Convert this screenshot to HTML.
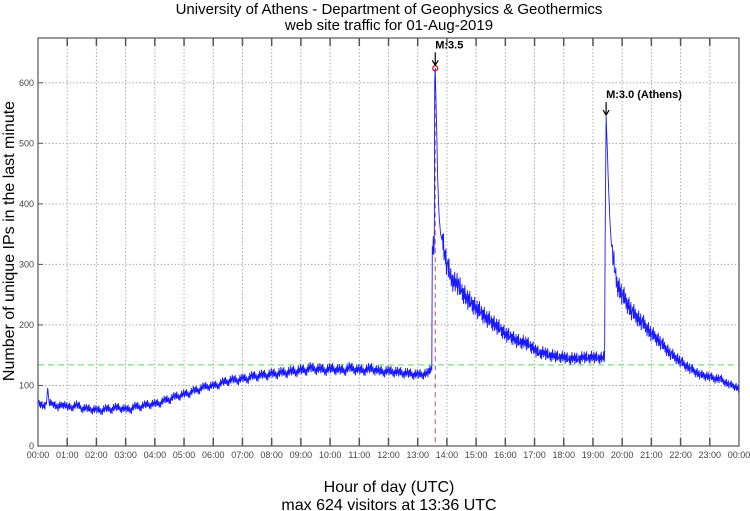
<!DOCTYPE html>
<html><head><meta charset="utf-8"><style>
body{margin:0;background:#fff;}
svg{display:block;font-family:"Liberation Sans",sans-serif;}
</style></head><body>
<svg id="chart" width="750" height="511" viewBox="0 0 750 511">
<text x="389" y="14" font-size="15" text-anchor="middle">University of Athens - Department of Geophysics &amp; Geothermics</text>
<text x="389" y="30" font-size="15" text-anchor="middle">web site traffic for 01-Aug-2019</text>
<text x="389" y="492" font-size="16" text-anchor="middle">Hour of day (UTC)</text>
<text x="389" y="510" font-size="16" text-anchor="middle">max 624 visitors at 13:36 UTC</text>
<text transform="translate(14,241) rotate(-90)" font-size="16" text-anchor="middle">Number of unique IPs in the last minute</text>
<g id="grid"></g><g id="series"></g><g id="ann"></g>
<rect x="38" y="38" width="701" height="408" fill="none" stroke="#555" stroke-width="1.2"/>
</svg>
<script>
const yTicks=[0,100,200,300,400,500,600];
const xTickHours=[0,1,2,3,4,5,6,7,8,9,10,11,12,13,14,15,16,17,18,19,20,21,22,23,24];
const minutes=[0,10,17,20,23,30,40,50,60,70,80,90,100,110,120,130,140,150,160,170,180,190,200,210,220,230,240,250,260,270,280,290,300,310,320,330,340,350,360,370,380,390,400,410,420,430,440,450,460,470,480,490,500,510,520,530,540,550,560,570,580,590,600,610,620,630,640,650,660,670,680,690,700,710,720,730,740,750,760,770,780,790,800,809,810,814,815,816,817,819,821,824,827,830,835,840,845,850,855,860,865,870,880,890,900,910,920,930,940,950,960,970,980,990,1000,1010,1020,1030,1040,1050,1060,1070,1080,1090,1100,1110,1120,1130,1140,1150,1160,1164,1165,1167,1169,1172,1175,1178,1182,1186,1190,1200,1210,1220,1230,1240,1250,1260,1270,1280,1290,1300,1310,1320,1330,1340,1350,1360,1370,1380,1390,1400,1410,1420,1430,1440];
const visitors=[72,66,68,96,70,70,64,68,66,62,70,60,64,58,62,56,64,58,66,60,63,58,68,62,70,66,72,68,78,74,84,80,88,84,94,90,100,96,102,98,108,104,112,106,114,108,118,112,120,114,122,116,124,118,126,120,128,122,132,124,130,122,130,124,128,122,132,124,128,122,130,124,126,120,126,120,124,118,122,116,120,116,122,125,330,340,600,624,590,520,440,380,350,340,320,300,285,275,268,272,262,255,245,235,228,220,212,205,200,192,185,180,176,170,172,165,160,152,155,148,150,145,148,142,146,142,148,144,148,144,146,150,330,545,500,430,370,330,305,285,265,250,235,222,212,205,195,185,178,170,160,152,145,140,132,128,122,118,115,115,110,112,105,102,98,95];
const jitter=[0,9,-8,6,-11,7,-4,12,-9,4,-6,10,-12,3,8,-7,13,-5];
const X0=38,X1=739,Y0=446,YT=38,YMAX=674;
const xs=m=>X0+(X1-X0)*m/1440;
const ys=v=>Y0-(Y0-YT)*v/YMAX;
const NS="http://www.w3.org/2000/svg";
const grid=document.getElementById('grid'),ser=document.getElementById('series'),ann=document.getElementById('ann');
function mk(tag,attrs,parent,txt){const e=document.createElementNS(NS,tag);for(const k in attrs)e.setAttribute(k,attrs[k]);if(txt!==undefined)e.textContent=txt;parent.appendChild(e);return e;}
yTicks.forEach(v=>{const y=ys(v);
 if(v>0){const l=mk('line',{x1:X0,x2:X1,y1:y,y2:y,stroke:'#aaa','stroke-dasharray':'1.5,2'},grid);
 
 }
 const t=mk('text',{x:X0-4,y:y+3,'font-size':9,fill:'#444','text-anchor':'end'},grid,String(v));
 
 
 mk('line',{x1:X0,x2:X0+5,y1:y,y2:y,stroke:'#555'},grid);
});
xTickHours.forEach(h=>{const x=xs(h*60);
 if(h>0&&h<24){const l=mk('line',{x1:x,x2:x,y1:YT,y2:Y0,stroke:'#aaa','stroke-dasharray':'1.5,2'},grid);
 
 
 mk('line',{x1:x,x2:x,y1:Y0,y2:Y0-8,stroke:'#555','stroke-width':1.5},grid);
 mk('line',{x1:x,x2:x,y1:YT,y2:YT+8,stroke:'#555','stroke-width':1.5},grid);}
 const lab=(h%24<10?'0':'')+(h%24)+':00';
 const t=mk('text',{x:x,y:Y0+12,'font-size':9,fill:'#444','text-anchor':'middle'},grid,lab);
 
 
});
const avg=134;
const al=mk('line',{x1:X0,x2:X1,y1:ys(avg),y2:ys(avg),stroke:'#7ee07e','stroke-dasharray':'6,4','stroke-width':1.2},grid);


const ml=mk('line',{x1:xs(816),x2:xs(816),y1:ys(624),y2:Y0,stroke:'#c05050','stroke-dasharray':'5,4','stroke-width':1},grid);


let pts=[];let k=0;
for(let i=0;i<minutes.length-1;i++){
 const m0=minutes[i],m1=minutes[i+1],v0=visitors[i],v1=visitors[i+1];
 const steps=Math.max(1,Math.round(m1-m0));
 for(let s=0;s<steps;s++){const m=m0+(m1-m0)*s/steps;let v=v0+(v1-v0)*s/steps;
  const big=(m1-m0)<=3;
  if(!big&&s>0)v+=jitter[k++%jitter.length]*Math.max(0.6,v/170);
  pts.push(xs(m).toFixed(1)+','+ys(v).toFixed(1));}
}
pts.push(xs(minutes[minutes.length-1])+','+ys(visitors[visitors.length-1]));
const pl=mk('polyline',{points:pts.join(' '),fill:'none',stroke:'#1a1aff','stroke-width':0.9},ser);


const mc=mk('circle',{cx:xs(816),cy:ys(624),r:2.5,fill:'none',stroke:'#d00','stroke-width':1.2},ann);


function arrow(x,y,label,name){
 mk('line',{x1:x,x2:x,y1:y-14,y2:y-2,stroke:'#000','stroke-width':1.2},ann);
 mk('path',{d:`M${x-3},${y-6} L${x},${y-1} L${x+3},${y-6}`,fill:'none',stroke:'#000','stroke-width':1.2},ann);
 const t=mk('text',{x:x,y:y-18,'font-size':11,'font-weight':'bold'},ann,label);
 
 
}
arrow(xs(816),ys(624)-2,'M:3.5','quake-label-1');
arrow(xs(1167),ys(545),'M:3.0 (Athens)','quake-label-2');
</script>
</body></html>
